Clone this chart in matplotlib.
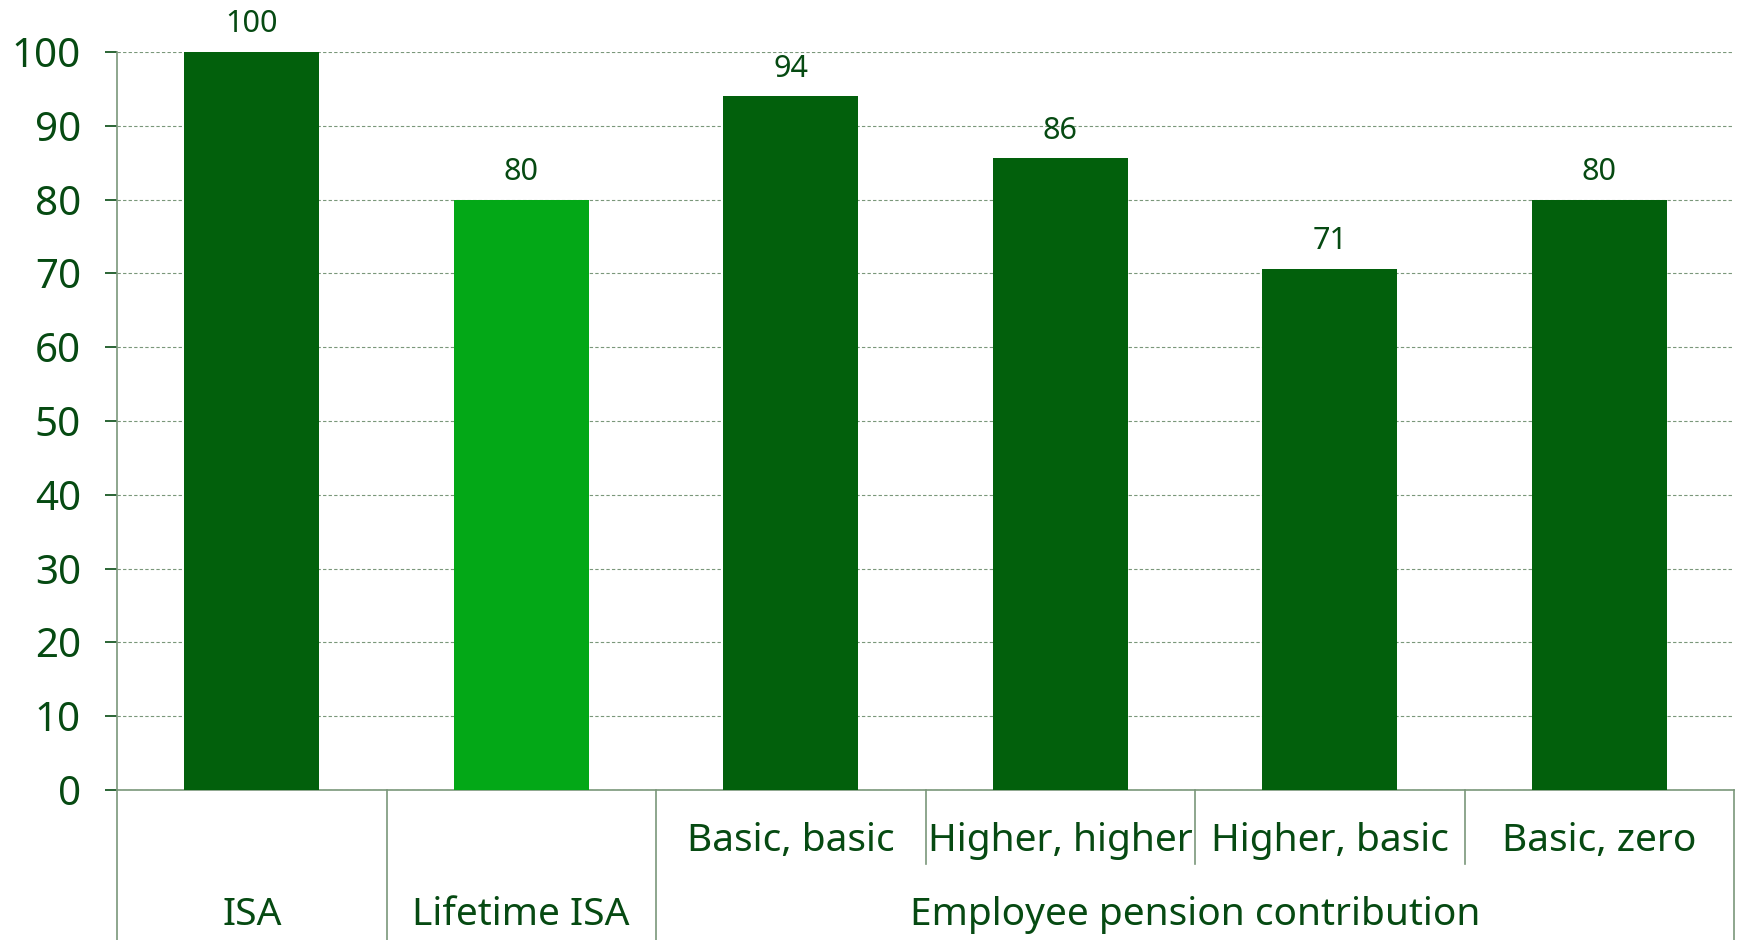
import matplotlib.pyplot as plt
import matplotlib.transforms as mtransforms

categories = ['ISA', 'Lifetime ISA', 'Basic, basic', 'Higher, higher', 'Higher, basic', 'Basic, zero']
values = [100, 80, 94, 85.6, 70.6, 80]
groups = ['ISA', 'Lifetime ISA', 'Employee pension contribution']
group_spans = [(0, 0), (1, 1), (2, 5)]
yticks = [0, 10, 20, 30, 40, 50, 60, 70, 80, 90, 100]

dark = '#02600c'
light = '#03a817'
text_col = '#064a12'
line_col = '#7a977a'

plt.rcParams['font.family'] = ['Noto Sans', 'DejaVu Sans']

fig = plt.figure(figsize=(17.37, 9.40), dpi=100)
ax = fig.add_axes([117 / 1737, 150 / 940, (1734 - 117) / 1737, 738 / 940])

colors = [dark, light, dark, dark, dark, dark]
x = list(range(len(categories)))
rects = ax.bar(x, values, width=0.5, color=colors, zorder=3)

for r, v in zip(rects, values):
    ax.annotate('%d' % round(v), (r.get_x() + r.get_width() / 2, v),
                xytext=(0, 9), textcoords='offset points',
                ha='center', va='bottom', fontsize=22, color=text_col)

ax.set_xlim(-0.5, len(categories) - 0.5)
ax.set_ylim(0, 100)
ax.set_yticks(yticks)
ax.tick_params(axis='y', labelsize=29, labelcolor=text_col, color=text_col,
               length=9, width=1.2, pad=17)
ax.set_xticks([])
ax.grid(axis='y', color=line_col, linestyle=(0, (3, 2)), linewidth=0.8, zorder=0)

for s in ['top', 'right']:
    ax.spines[s].set_visible(False)
ax.spines['left'].set_color(line_col)
ax.spines['bottom'].set_color(line_col)
ax.spines['left'].set_linewidth(1.2)
ax.spines['bottom'].set_linewidth(1.2)

trans = mtransforms.blended_transform_factory(ax.transData, ax.transAxes)

# category dividers below the axis
outer = set()
for a, b in group_spans:
    outer.add(a - 0.5)
    outer.add(b + 0.5)
for i in range(len(categories) + 1):
    bx = i - 0.5
    y0 = -0.205 if bx in outer else -0.1
    ax.plot([bx, bx], [0, y0], transform=trans, color=line_col, lw=1.2, clip_on=False)

# sub-labels only for the pension group
for i, c in enumerate(categories):
    if i >= group_spans[2][0]:
        ax.text(i, -0.069, c, transform=trans, ha='center', va='center',
                fontsize=28, color=text_col)

for g, (a, b) in zip(groups, group_spans):
    ax.text((a + b) / 2, -0.169, g, transform=trans, ha='center', va='center',
            fontsize=28, color=text_col)

fig.savefig('out.png', dpi=100)
